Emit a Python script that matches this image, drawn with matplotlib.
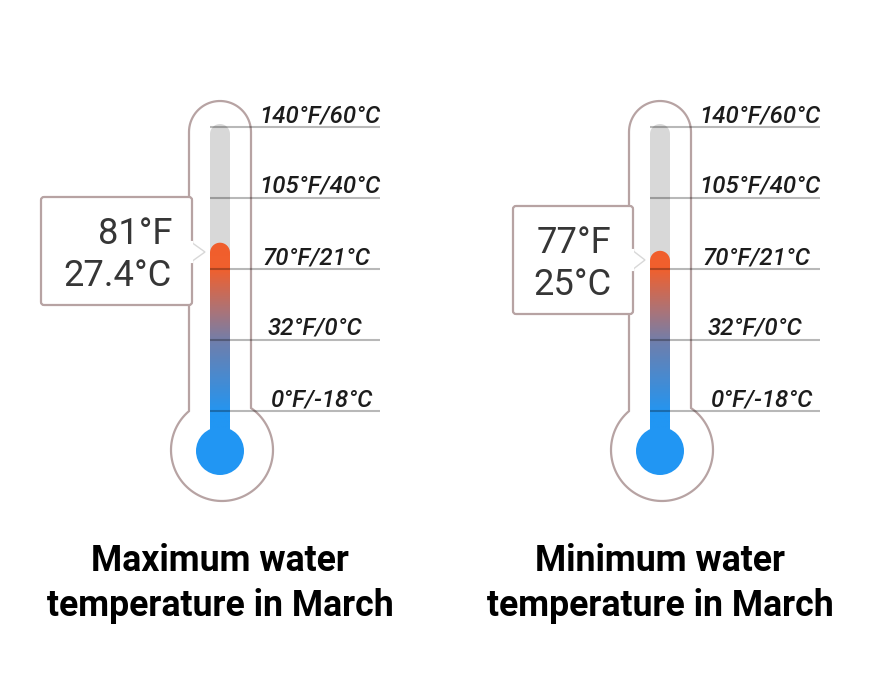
import numpy as np
import matplotlib
matplotlib.use("Agg")
import matplotlib.pyplot as plt
from matplotlib.patches import PathPatch, Circle, FancyBboxPatch, Polygon
from matplotlib.path import Path
from matplotlib.colors import LinearSegmentedColormap

plt.rcParams['font.family'] = ['Roboto', 'DejaVu Sans']

tick_f = [0, 32, 70, 105, 140]
tick_labels = ["0°F/-18°C", "32°F/0°C", "70°F/21°C", "105°F/40°C", "140°F/60°C"]
titles = ["Maximum water\ntemperature in March", "Minimum water\ntemperature in March"]
reading_f = [81, 77]
reading_text = ["81°F\n27.4°C", "77°F\n25°C"]

OUTLINE = "#b7a3a3"
tick_px = [411, 340, 269, 198, 127]
label_x = [322.5, 314.5, 316, 319.5, 319.5]


def temp_to_y(f):
    # the scale is evenly spaced per label, not linear in degrees
    return np.interp(f, tick_f, tick_px)


def outline_path(dx):
    verts = []
    # glass: straight stem, round top, big bulb at the bottom
    for t in np.linspace(np.pi, 0, 40):
        verts.append((220 + dx + 31 * np.cos(t), 132 - 31 * np.sin(t)))
    a_right = np.arccos(29 / 51.0)
    a_left = np.arccos(-33 / 51.0)
    for t in np.linspace(a_right, a_left - 2 * np.pi, 90):
        verts.append((222 + dx + 51 * np.cos(t), 450 - 51 * np.sin(t)))
    verts.append(verts[0])
    codes = [Path.MOVETO] + [Path.LINETO] * (len(verts) - 2) + [Path.CLOSEPOLY]
    return Path(verts, codes)


def tube_path(dx, top):
    # rounded top column from top down to the bulb
    verts = []
    for t in np.linspace(np.pi, 0, 20):
        verts.append((220 + dx + 10 * np.cos(t), top + 10 - 10 * np.sin(t)))
    verts.append((230 + dx, 440))
    verts.append((210 + dx, 440))
    verts.append(verts[0])
    codes = [Path.MOVETO] + [Path.LINETO] * (len(verts) - 2) + [Path.CLOSEPOLY]
    return Path(verts, codes)


fig = plt.figure(figsize=(8.8, 6.8), dpi=100)
ax = fig.add_axes([0, 0, 1, 1])
ax.set_xlim(0, 880)
ax.set_ylim(680, 0)
ax.axis("off")

# colour stops along the column, y=230 at the top and y=440 at the bottom
stops = [(0.0, "#f15d2b"), (0.186, "#f0602e"), (0.39, "#a9747a"), (0.54, "#6d7fae"), (0.88, "#2196f3"), (1.0, "#2196f3")]
cmap = LinearSegmentedColormap.from_list("temp", stops)

boxes = [(41, 197, 151, 108, 172, 205, 252), (513, 206, 120, 108, 611.5, 645, 260)]

for i in range(2):
    dx = i * 440
    ax.add_patch(PathPatch(outline_path(dx), fc="white", ec=OUTLINE, lw=1.6, zorder=1))

    # empty tube
    ax.add_patch(PathPatch(tube_path(dx, 124), fc="#d8d8d8", ec="none", zorder=2))

    # mercury column with the vertical gradient
    top = temp_to_y(reading_f[i]) - 4
    grad = np.linspace(0, 1, 256).reshape(-1, 1)
    im = ax.imshow(grad, extent=(210 + dx, 230 + dx, 440, 230), cmap=cmap, vmin=0, vmax=1, aspect="auto", zorder=3)
    clip = PathPatch(tube_path(dx, top), transform=ax.transData, fc="none", ec="none")
    ax.add_patch(clip)
    im.set_clip_path(clip)
    ax.add_patch(Circle((220 + dx, 451), 24, fc="#2196f3", ec="none", zorder=4))

    # scale
    for f, lab, lx in zip(tick_f, tick_labels, label_x):
        y = temp_to_y(f)
        ax.plot([210 + dx, 380 + dx], [y, y], color="#000000", alpha=0.28, lw=1.5, zorder=5, solid_capstyle="butt")
        ax.text(lx + dx, y - 11.5, lab, ha="center", va="center", fontsize=17.3, style="italic",
                fontweight="medium", color="#1c1c1c", zorder=6)

    # callout
    x0, y0, w, h, tx, px, py = boxes[i]
    ax.add_patch(FancyBboxPatch((x0 + 2, y0 + 2), w - 4, h - 4, boxstyle="round,pad=2,rounding_size=3",
                                fc="white", ec=OUTLINE, lw=1.6, zorder=7))
    ax.add_patch(Polygon([(x0 + w - 1, py - 10), (px, py), (x0 + w - 1, py + 10)], closed=True,
                         fc="white", ec="#d8d8d8", lw=1.0, zorder=8))
    ax.plot([x0 + w - 1, x0 + w - 1], [py - 9, py + 9], color="white", lw=3, zorder=8)
    ax.text(tx, y0 + h / 2 + 4, reading_text[i], ha="right", va="center", fontsize=26.2, color="#363636",
            linespacing=1.2, zorder=9)

    ax.text(220 + dx, 583.5, titles[i], ha="center", va="center", fontsize=25.7, fontweight="bold",
            color="#000000", linespacing=1.34)

ax.set_xlim(0, 880)
ax.set_ylim(680, 0)
fig.savefig("out.png", dpi=100, facecolor="white")
